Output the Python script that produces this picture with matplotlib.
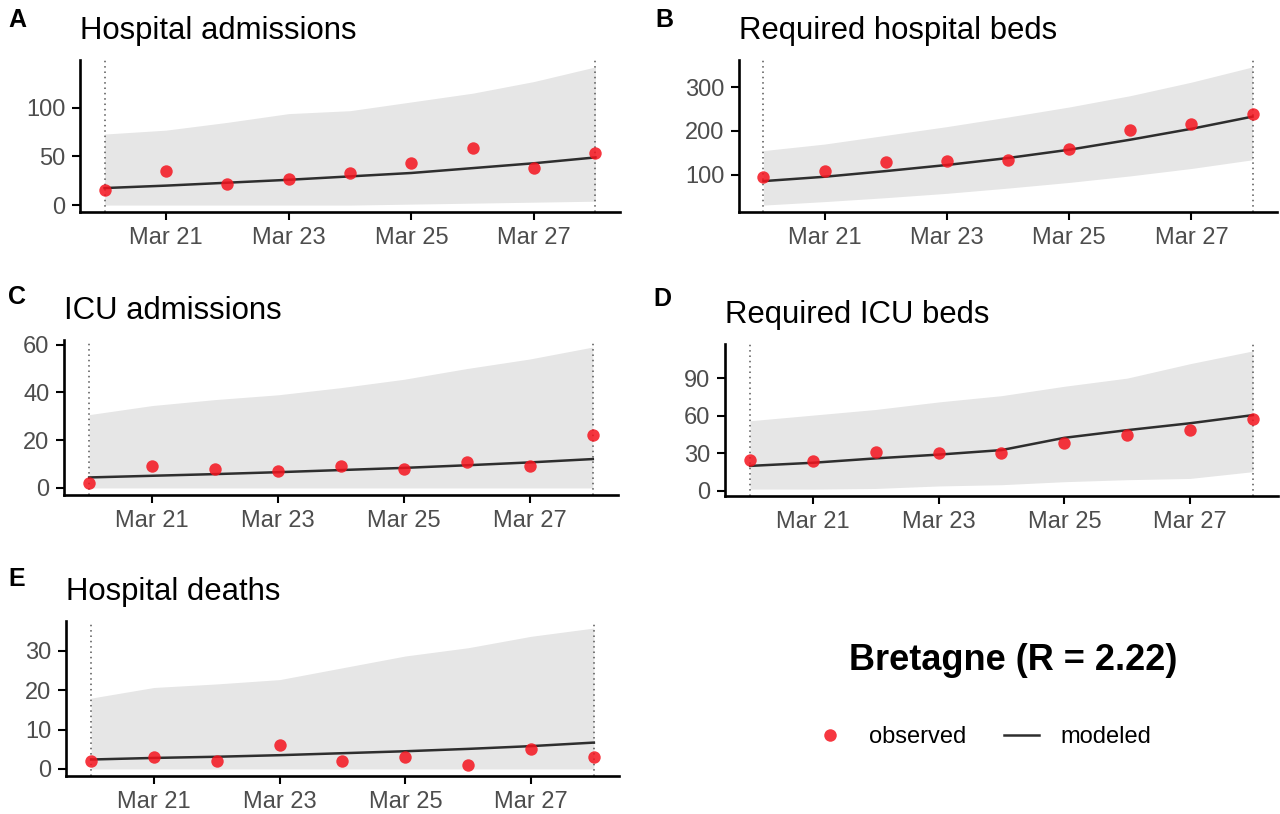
import numpy as np
import matplotlib
matplotlib.use("Agg")
from matplotlib import pyplot as plt
import matplotlib.dates as mdates
from matplotlib.lines import Line2D

plt.rcParams['font.family'] = ['Liberation Sans', 'DejaVu Sans']

# Days of observation
dates = np.array(['2020-03-20', '2020-03-21', '2020-03-22', '2020-03-23', '2020-03-24',
                  '2020-03-25', '2020-03-26', '2020-03-27', '2020-03-28'], dtype='datetime64[D]')

# A - Hospital admissions
hosp_obs = [16, 35, 22, 27, 33, 43, 59, 38, 54]
hosp_mod = [17.5, 20, 23, 26, 29.5, 33, 38, 43, 49]
hosp_lo = [0, 0, 0, 0, 0, 1, 2, 3, 4]
hosp_hi = [73, 77, 85, 94, 97, 106, 115, 127, 142]

# B - Required hospital beds
beds_obs = [95, 109, 130, 132, 133, 158, 203, 216, 240]
beds_mod = [85, 95, 108, 122, 138, 157, 180, 205, 233]
beds_lo = [30, 38, 47, 57, 69, 82, 97, 114, 134]
beds_hi = [155, 170, 190, 210, 232, 255, 281, 312, 347]

# C - ICU admissions
icu_obs = [2, 9, 8, 7, 9, 8, 11, 9, 22]
icu_mod = [4.4, 5.1, 5.8, 6.6, 7.5, 8.4, 9.5, 10.7, 12.1]
icu_lo = [0, 0, 0, 0, 0, 0, 0, 0, 0]
icu_hi = [30.7, 34.5, 37, 39, 42, 45.5, 50, 54, 59]

# D - Required ICU beds
icub_obs = [25, 24, 31, 30, 30, 38, 44.5, 49, 57]
icub_mod = [20, 22.5, 26, 29, 32.6, 42.4, 48.5, 54, 60.5]
icub_lo = [1.5, 1.5, 2, 4, 5, 7.4, 9, 10, 15.4]
icub_hi = [56, 60.5, 65, 71, 76, 83.5, 90, 101.5, 111.7]

# E - Hospital deaths
death_obs = [2, 3, 2, 6, 2, 3, 1, 5, 3]
death_mod = [2.4, 2.8, 3.1, 3.5, 4.0, 4.5, 5.1, 5.8, 6.7]
death_lo = [0, 0, 0, 0, 0, 0, 0, 0, 0]
death_hi = [18, 20.7, 21.6, 22.7, 25.7, 28.7, 30.8, 33.7, 35.8]

panels = [
    ("A", "Hospital admissions", hosp_obs, hosp_mod, hosp_lo, hosp_hi, [0, 50, 100]),
    ("B", "Required hospital beds", beds_obs, beds_mod, beds_lo, beds_hi, [100, 200, 300]),
    ("C", "ICU admissions", icu_obs, icu_mod, icu_lo, icu_hi, [0, 20, 40, 60]),
    ("D", "Required ICU beds", icub_obs, icub_mod, icub_lo, icub_hi, [0, 30, 60, 90]),
    ("E", "Hospital deaths", death_obs, death_mod, death_lo, death_hi, [0, 10, 20, 30]),
]

W, H = 1280, 814
# axes boxes in pixels: left, top, right, bottom
boxes = [(80, 60, 620, 212), (739, 60, 1277, 212), (64, 340, 618, 495),
         (725, 344, 1278, 496), (66, 621, 619, 776)]
letter_pos = [(8, 27), (655, 27), (8, 304), (653, 306), (8, 586)]

fig = plt.figure(figsize=(W / 100, H / 100), dpi=100)

for (letter, title, obs, mod, lo, hi, yt), (l, t, r, b), (lx, ly) in zip(panels, boxes, letter_pos):
    ax = fig.add_axes([l / W, 1 - b / H, (r - l) / W, (b - t) / H])
    ax.fill_between(dates, lo, hi, color='#E6E6E6', lw=0, zorder=1)
    ax.plot(dates, mod, color='#2E2E2E', lw=1.8, zorder=3)
    ax.scatter(dates, obs, s=80, color='#F5141E', alpha=0.85, lw=0, zorder=4)
    ax.margins(x=0.05, y=0.05)
    for d in (dates[0], dates[-1]):
        ax.axvline(d, color='#555555', ls=(0, (1, 2.5)), lw=1.1, zorder=2)
    ax.set_yticks(yt)
    ax.set_xticks(dates[1::2])
    ax.xaxis.set_major_formatter(mdates.DateFormatter('%b %d'))
    for s in ('top', 'right'):
        ax.spines[s].set_visible(False)
    for s in ('left', 'bottom'):
        ax.spines[s].set_linewidth(1.9)
    ax.tick_params(labelsize=17, labelcolor='#4D4D4D', length=5.5, width=1.5)
    ax.tick_params(axis='x', pad=5.5)
    ax.tick_params(axis='y', pad=5)
    ax.set_title(title, loc='left', fontsize=22.4, pad=15, color='black')
    fig.text(lx / W, 1 - ly / H, letter, fontsize=18, fontweight='bold', va='baseline', ha='left')

# Region label and legend
fig.text(1013 / W, 1 - 660 / H, "Bretagne (R = 2.22)", fontsize=26, fontweight='bold',
         ha='center', va='center')
handles = [Line2D([], [], ls='none', marker='o', ms=9, color='#F5141E', alpha=0.85, mew=0),
           Line2D([], [], color='#2E2E2E', lw=1.8)]
fig.legend(handles, ['observed', 'modeled'], loc='center', bbox_to_anchor=(982 / W, 1 - 737 / H),
           ncol=2, frameon=False, fontsize=17, handlelength=1.5, handletextpad=0.9,
           columnspacing=1.6)

plt.savefig("out.png", dpi=100)
